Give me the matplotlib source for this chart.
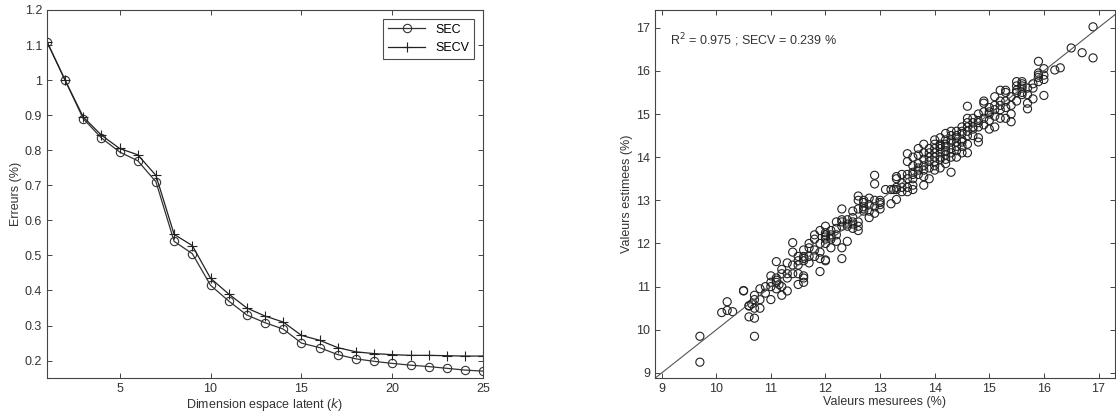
import numpy as np
import matplotlib.pyplot as plt
from matplotlib.ticker import FuncFormatter

plt.rcParams['font.family'] = ['Liberation Sans', 'DejaVu Sans']
plt.rcParams['font.size'] = 9

# left panel: errors vs latent dimension
k = list(range(1, 26))
sec = [1.11, 1.00, 0.89, 0.835, 0.795, 0.77, 0.71, 0.54, 0.505, 0.415, 0.37, 0.33, 0.308,
       0.29, 0.25, 0.237, 0.217, 0.205, 0.198, 0.192, 0.187, 0.183, 0.178, 0.173, 0.17]
secv = [1.11, 1.00, 0.895, 0.843, 0.805, 0.787, 0.728, 0.56, 0.528, 0.435, 0.39, 0.35, 0.327,
        0.31, 0.272, 0.258, 0.237, 0.225, 0.22, 0.217, 0.215, 0.215, 0.214, 0.213, 0.213]

pts = [
    (9.7, 9.85), (9.7, 9.25),
    (10.1, 10.4), (10.2, 10.65), (10.2, 10.45), (10.3, 10.42),
    (10.5, 10.9), (10.5, 10.91),
    (10.6, 10.55), (10.6, 10.56), (10.6, 10.3), (10.65, 10.6),
    (10.7, 10.27), (10.7, 9.85), (10.7, 10.8), (10.7, 10.7), (10.7, 10.5),
    (10.8, 10.95), (10.8, 10.5), (10.8, 10.7),
    (10.9, 10.85), (10.9, 11.0),
    (11.0, 11.25), (11.0, 10.7), (11.0, 11.0), (11.0, 11.1),
    (11.1, 11.58), (11.1, 11.2), (11.1, 11.1), (11.1, 10.95), (11.15, 11.05),
    (11.2, 11.3), (11.2, 11.0), (11.2, 10.8), (11.2, 11.4),
    (11.3, 11.55), (11.3, 11.2), (11.3, 10.9), (11.3, 11.3),
    (11.4, 12.02), (11.4, 11.8), (11.4, 11.5), (11.4, 11.3),
    (11.5, 11.6), (11.5, 11.3), (11.5, 11.05), (11.5, 11.7), (11.5, 11.5),
    (11.6, 11.2), (11.6, 11.1), (11.6, 11.25), (11.6, 11.7), (11.6, 11.85), (11.6, 11.6),
    (11.7, 11.9), (11.7, 11.7), (11.7, 11.55), (11.7, 12.0),
    (11.8, 12.1), (11.8, 11.85), (11.8, 11.7), (11.8, 12.2),
    (11.9, 11.35), (11.9, 11.65), (11.9, 12.3), (11.9, 12.0), (11.9, 11.8),
    (12.0, 11.6), (12.0, 11.62), (12.0, 12.1), (12.0, 12.25), (12.0, 12.0), (12.0, 12.2), (12.0, 12.4),
    (12.1, 12.15), (12.1, 11.9), (12.1, 12.3), (12.1, 12.1),
    (12.2, 12.05), (12.2, 12.35), (12.2, 12.5), (12.2, 12.2),
    (12.3, 11.65), (12.3, 11.9), (12.3, 12.8), (12.3, 12.5), (12.3, 12.4), (12.3, 12.55),
    (12.4, 12.05), (12.4, 12.45), (12.4, 12.55), (12.4, 12.4),
    (12.5, 12.5), (12.5, 12.6), (12.5, 12.75), (12.5, 12.35),
    (12.6, 12.3), (12.6, 12.4), (12.6, 12.5), (12.6, 12.8), (12.6, 13.1), (12.6, 13.0),
    (12.7, 12.75), (12.7, 12.85), (12.7, 13.0), (12.7, 12.95),
    (12.8, 12.6), (12.8, 12.9), (12.8, 13.05), (12.8, 12.75),
    (12.9, 13.58), (12.9, 13.38), (12.9, 12.7), (12.9, 13.0), (12.9, 12.85),
    (13.0, 12.8), (13.0, 12.95), (13.0, 13.0), (13.0, 12.9),
    (13.1, 13.25),
    (13.2, 12.92), (13.2, 13.25), (13.25, 13.25),
    (13.3, 13.5), (13.3, 13.25), (13.3, 13.02), (13.3, 13.55),
    (13.4, 13.3), (13.4, 13.4), (13.4, 13.6), (13.4, 13.2),
    (13.5, 14.08), (13.5, 13.9), (13.5, 13.6), (13.5, 13.5), (13.5, 13.2), (13.5, 13.3),
    (13.6, 13.25), (13.6, 13.5), (13.6, 13.65), (13.6, 13.8), (13.6, 14.0), (13.6, 13.35),
    (13.7, 13.7), (13.7, 13.85), (13.7, 14.05), (13.7, 13.6), (13.7, 14.2),
    (13.8, 13.35), (13.8, 13.55), (13.8, 13.8), (13.8, 14.1), (13.8, 14.3), (13.8, 13.95),
    (13.9, 13.5), (13.9, 13.75), (13.9, 14.0), (13.9, 14.2), (13.9, 13.9),
    (14.0, 13.8), (14.0, 14.0), (14.0, 14.2), (14.0, 14.4), (14.0, 13.9), (14.0, 14.1),
    (14.1, 13.75), (14.1, 13.95), (14.1, 14.1), (14.1, 14.3), (14.1, 14.45), (14.1, 14.2), (14.1, 14.0),
    (14.2, 13.85), (14.2, 14.05), (14.2, 14.25), (14.2, 14.4), (14.2, 14.55), (14.2, 14.15),
    (14.3, 13.65), (14.3, 14.0), (14.3, 14.2), (14.3, 14.35), (14.3, 14.5), (14.3, 14.6),
    (14.4, 14.0), (14.4, 14.25), (14.4, 14.45), (14.4, 14.6), (14.4, 14.35),
    (14.5, 14.1), (14.5, 14.35), (14.5, 14.55), (14.5, 14.7), (14.5, 14.4),
    (14.6, 14.1), (14.6, 14.3), (14.6, 14.5), (14.6, 14.7), (14.6, 14.9), (14.6, 15.18), (14.6, 14.8),
    (14.7, 14.5), (14.7, 14.65), (14.7, 14.8), (14.7, 14.9),
    (14.8, 14.35), (14.8, 14.45), (14.8, 14.7), (14.8, 14.85), (14.8, 15.0),
    (14.9, 14.75), (14.9, 15.3), (14.9, 15.25), (14.9, 14.9), (14.9, 15.05),
    (15.0, 14.65), (15.0, 14.85), (15.0, 15.0), (15.0, 15.15),
    (15.1, 14.7), (15.1, 15.1), (15.1, 15.4), (15.1, 14.95), (15.1, 15.2),
    (15.2, 15.55), (15.2, 15.2), (15.2, 14.9), (15.2, 15.1),
    (15.3, 15.55), (15.3, 15.3), (15.3, 15.15), (15.3, 14.9), (15.3, 15.5),
    (15.4, 14.82), (15.4, 15.0), (15.4, 15.2), (15.4, 15.4),
    (15.5, 15.75), (15.5, 15.65), (15.5, 15.3), (15.5, 15.5),
    (15.6, 15.45), (15.6, 15.7), (15.6, 15.75), (15.6, 15.6), (15.6, 15.5),
    (15.7, 15.12), (15.7, 15.25), (15.7, 15.6), (15.7, 15.45),
    (15.8, 15.35), (15.8, 15.6), (15.8, 15.7),
    (15.9, 16.22), (15.9, 15.95), (15.9, 15.85), (15.9, 15.75),
    (16.0, 15.43), (16.0, 15.9), (16.0, 16.05), (16.0, 15.8),
    (16.2, 16.02), (16.3, 16.07),
    (16.5, 16.53), (16.7, 16.42), (16.9, 17.02), (16.9, 16.3),
    # extra points in the densest part of the band
    (11.1, 11.15), (11.6, 11.65), (12.0, 12.15), (12.1, 12.2), (12.5, 12.45),
    (12.7, 12.8), (13.3, 13.3), (13.6, 13.6), (13.7, 13.75), (13.8, 13.7),
    (13.9, 14.1), (14.0, 14.3), (14.0, 13.7), (14.1, 14.25), (14.2, 14.3),
    (14.2, 13.95), (14.3, 14.1), (14.3, 14.4), (14.4, 14.5), (14.4, 14.15),
    (14.5, 14.6), (14.5, 14.25), (14.6, 14.6), (14.7, 14.7), (14.8, 14.8),
    (15.0, 15.05), (15.2, 15.3), (15.5, 15.55), (15.6, 15.65), (15.9, 15.9),
]
measured = [p[0] for p in pts]
estimated = [p[1] for p in pts]

r2_text = r'R$^2$ = 0.975 ; SECV = 0.239 %'

fig = plt.figure(figsize=(11.16, 4.16), dpi=100)
axc = '#444444'
txtc = '#333333'


def style(ax):
    for s in ax.spines.values():
        s.set_color(axc)
        s.set_linewidth(0.8)
    ax.tick_params(direction='in', top=True, right=True, length=3.5, width=0.7,
                   colors=axc, labelcolor=txtc, labelsize=9)


# left
ax1 = fig.add_axes([0.042, 0.091, 0.391, 0.885])
ax1.plot(k, sec, '-o', color='#333333', lw=0.9, ms=6, mfc='none', mew=0.8, label='SEC')
ax1.plot(k, secv, '-+', color='#222222', lw=0.9, ms=7, mew=0.8, label='SECV')
ax1.set_xlim(1, 25)
ax1.set_ylim(0.15, 1.2)
ax1.set_xticks([5, 10, 15, 20, 25])
ax1.set_yticks(np.arange(0.2, 1.21, 0.1))
ax1.yaxis.set_major_formatter(FuncFormatter(lambda v, p: '%g' % round(v, 1)))
ax1.set_xlabel(r'Dimension espace latent ($k$)', color=txtc, labelpad=1)
ax1.set_ylabel('Erreurs (%)', color=txtc, labelpad=2)
style(ax1)
leg = ax1.legend(loc='upper right', fancybox=False, edgecolor='#222222', fontsize=9,
                 handlelength=3.0, borderaxespad=0.7)
leg.get_frame().set_linewidth(0.8)

# right
ax2 = fig.add_axes([0.587, 0.091, 0.412, 0.885])
ax2.plot([8.5, 17.5], [8.5, 17.5], color='#555555', lw=0.8)
ax2.scatter(measured, estimated, s=34, facecolors='none', edgecolors='#222222',
            linewidths=0.8)
ax2.set_xlim(8.88, 17.3)
ax2.set_ylim(8.88, 17.41)
ax2.set_xticks(range(9, 18))
ax2.set_yticks(range(9, 18))
ax2.set_xlabel('Valeurs mesurees (%)', color=txtc, labelpad=1)
ax2.set_ylabel('Valeurs estimees (%)', color=txtc, labelpad=2)
ax2.text(9.15, 16.71, r2_text, fontsize=9, color=txtc, va='center')
style(ax2)

fig.savefig('out.png', dpi=100)
